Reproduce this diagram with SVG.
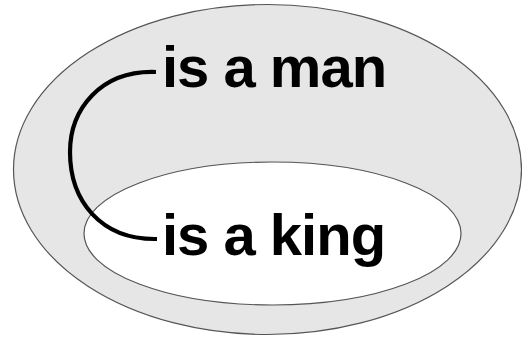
<svg xmlns="http://www.w3.org/2000/svg" width="522" height="337" viewBox="0 0 522 337">
<style>
.lbl{font-family:"Liberation Sans",Arial,sans-serif;font-weight:bold;font-size:58px;letter-spacing:-1px;fill:#000}
.set{stroke:#555;stroke-width:1.2}
</style>
<rect width="522" height="337" fill="#fff"/>
<g id="man">
<ellipse class="set" cx="267.5" cy="169.5" rx="254" ry="165" fill="#e6e6e6"/>
<text class="lbl" x="162" y="87">is a man</text>
</g>
<g id="king">
<ellipse class="set" cx="272.5" cy="233.5" rx="188.5" ry="71.5" fill="#fff"/>
<text class="lbl" x="162" y="255">is a king</text>
</g>
<g id="connectors">
<path d="M156,72 C100,70 70,110 70,152 C70,200 100,240 157,239" fill="none" stroke="#000" stroke-width="4.2"/>
</g>
</svg>
